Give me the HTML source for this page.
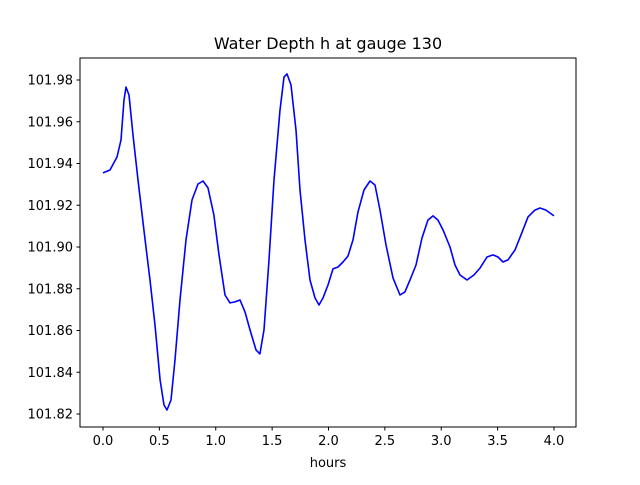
<!DOCTYPE html>
<html><head><meta charset="utf-8"><style>
body{margin:0;background:#fff;}
svg text{font-family:"DejaVu Sans","Liberation Sans",sans-serif;fill:#000;}
</style></head><body>
<svg id="chart" width="640" height="480">
<rect width="640" height="480" fill="#fff"/>
<text x="328" y="49" font-size="16" text-anchor="middle">Water Depth h at gauge 130</text>
<text x="328" y="467" font-size="13" text-anchor="middle">hours</text>
<g id="ticks"></g>
<polyline id="series" fill="none" stroke="#0000ff" stroke-width="1.6" stroke-linejoin="round"/>
<rect x="80" y="58" width="496" height="369" fill="none" stroke="#000" stroke-width="1"/>
</svg>
<script>
const hours=[0,0.062,0.124,0.160,0.186,0.204,0.231,0.266,0.310,0.373,0.417,0.461,0.506,0.541,0.568,0.603,0.639,0.683,0.736,0.789,0.843,0.887,0.931,0.984,1.029,1.082,1.126,1.171,1.215,1.259,1.304,1.357,1.392,1.428,1.472,1.517,1.570,1.605,1.632,1.667,1.712,1.747,1.792,1.836,1.880,1.916,1.951,1.996,2.040,2.084,2.129,2.173,2.217,2.262,2.315,2.368,2.412,2.457,2.510,2.572,2.634,2.678,2.723,2.776,2.829,2.882,2.927,2.971,3.016,3.078,3.122,3.166,3.228,3.290,3.344,3.406,3.459,3.503,3.548,3.592,3.654,3.707,3.769,3.831,3.876,3.929,4.000];
const depth=[101.9355,101.9369,101.9431,101.9513,101.9704,101.9766,101.9728,101.9537,101.9321,101.9034,101.8842,101.8626,101.8363,101.8243,101.8219,101.8267,101.8459,101.8746,101.9034,101.9225,101.9302,101.9316,101.9283,101.9153,101.8962,101.8770,101.8732,101.8737,101.8746,101.8689,101.8603,101.8507,101.8488,101.8603,101.8938,101.9321,101.9656,101.9814,101.9829,101.9776,101.9560,101.9273,101.9034,101.8842,101.8756,101.8722,101.8756,101.8818,101.8895,101.8904,101.8928,101.8957,101.9034,101.9168,101.9273,101.9316,101.9297,101.9177,101.9010,101.8852,101.8770,101.8785,101.8842,101.8914,101.9043,101.9129,101.9149,101.9129,101.9081,101.9000,101.8914,101.8866,101.8842,101.8866,101.8899,101.8952,101.8962,101.8952,101.8928,101.8938,101.8986,101.9058,101.9144,101.9177,101.9187,101.9177,101.9149];
const xTicks=[0,0.5,1,1.5,2,2.5,3,3.5,4];
const xTickLabels=["0.0","0.5","1.0","1.5","2.0","2.5","3.0","3.5","4.0"];
const yTicks=[101.82,101.84,101.86,101.88,101.90,101.92,101.94,101.96,101.98];
const yTickLabels=["101.82","101.84","101.86","101.88","101.90","101.92","101.94","101.96","101.98"];
const xs=h=>103+h*112.75;
const ys=v=>414-(v-101.82)*2087.5;
const NS="http://www.w3.org/2000/svg";
const g=document.getElementById('ticks');
function mk(tag,attrs){const e=document.createElementNS(NS,tag);for(const k in attrs)e.setAttribute(k,attrs[k]);g.appendChild(e);return e;}
xTicks.forEach((t,i)=>{
  const l=mk('line',{x1:xs(t),x2:xs(t),y1:427,y2:430.5,stroke:'#000'});
  
  
  const tx=mk('text',{x:xs(t),y:445,'font-size':'13','text-anchor':'middle'});
  tx.textContent=xTickLabels[i];
  
  
});
yTicks.forEach((t,i)=>{
  const l=mk('line',{x1:76.5,x2:80,y1:ys(t),y2:ys(t),stroke:'#000'});
  
  
  const tx=mk('text',{x:73,y:ys(t)+4.5,'font-size':'13','text-anchor':'end'});
  tx.textContent=yTickLabels[i];
  
  
});
document.getElementById('series').setAttribute('points',hours.map((h,i)=>xs(h).toFixed(1)+','+ys(depth[i]).toFixed(1)).join(' '));
</script>
</body></html>
